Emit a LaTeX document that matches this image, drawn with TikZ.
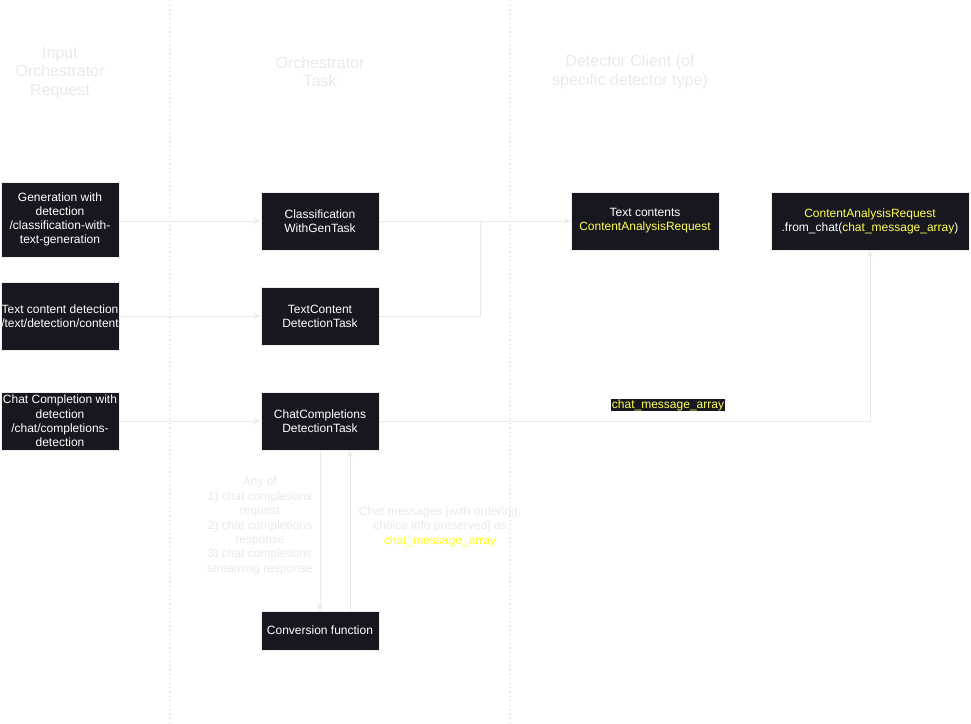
\documentclass[tikz,border=0pt]{standalone}
\usepackage{fontspec}
\setmainfont{Liberation Sans}
\usetikzlibrary{arrows.meta}
\definecolor{boxfill}{HTML}{18171F}
\definecolor{edgec}{HTML}{EBEBEB}
\definecolor{hdrc}{HTML}{EAEAEA}
\definecolor{ylw}{HTML}{FFFF55}
\definecolor{ylwb}{HTML}{FFFF22}
\definecolor{dotc}{HTML}{E6E6E6}
\begin{document}
\begin{tikzpicture}[x=1pt,y=-1pt,
  darkbox/.style={draw=white!93!black, line width=0.6pt, fill=boxfill, text=white,
    font=\fontsize{12}{14.2}\selectfont, align=center, inner sep=0pt},
  conn/.style={draw=edgec, line width=0.9pt},
  arr/.style={conn, -{Stealth[length=7pt,width=6pt]}},
  hdr/.style={text=hdrc, font=\fontsize{16}{18.5}\selectfont, align=center},
  note/.style={text=hdrc, font=\fontsize{12}{14.4}\selectfont, align=center},
  sep/.style={draw=dotc, line width=1.2pt, dash pattern=on 1.2pt off 3.2pt}
]
\useasboundingbox[fill=white] (0,0) rectangle (971,723);

% separators
\coordinate (s1t) at (170,5);
\coordinate (s1b) at (170,723);
\coordinate (s2t) at (510,5);
\coordinate (s2b) at (510,723);
\draw[sep] (s1t) -- (s1b);
\draw[sep] (s2t) -- (s2b);

% headers
\node[hdr] (h1) at (60,73) {Input\\Orchestrator\\Request};
\node[hdr] (h2) at (320,72) {Orchestrator\\Task};
\node[hdr] (h3) at (630,72) {Detector Client (of\\specific detector type)};

% input boxes
\node[darkbox, minimum width=118pt, minimum height=75pt] (in1) at (60,219.5)
  {Generation with\\detection\\/classification-with-\\text-generation};
\node[darkbox, minimum width=118pt, minimum height=68pt] (in2) at (60,316)
  {Text content detection\\/text/detection/content};
\node[darkbox, minimum width=118pt, minimum height=58pt] (in3) at (60,421)
  {Chat Completion with\\detection\\/chat/completions-\\detection};

% task boxes
\node[darkbox, minimum width=118pt, minimum height=58pt] (cwg) at (320,221)
  {Classification\\WithGenTask};
\node[darkbox, minimum width=118pt, minimum height=58pt] (tcd) at (320,316)
  {TextContent\\DetectionTask};
\node[darkbox, minimum width=118pt, minimum height=58pt] (ccd) at (320,421)
  {ChatCompletions\\DetectionTask};
\node[darkbox, minimum width=118pt, minimum height=39pt] (conv) at (320,630.5)
  {Conversion function};

% detector boxes
\node[darkbox, minimum width=148pt, minimum height=58pt] (tc) at (645,221)
  {Text contents\\\textcolor{ylw}{ContentAnalysisRequest}};
\node[darkbox, minimum width=198pt, minimum height=58pt] (car) at (870,221)
  {\textcolor{ylw}{ContentAnalysisRequest}\\.from\_chat(\textcolor{ylw}{chat\_message\_array})};

% connectors
\draw[arr] (in1.east |- cwg.west) -- (cwg.west);
\draw[arr] (in2.east) -- (tcd.west);
\draw[arr] (in3.east) -- (ccd.west);
\draw[arr] (cwg.east) -- (tc.west);
\coordinate (j1) at (480,221);
\draw[conn] (tcd.east) -| (j1);
\draw[arr] (ccd.east) -| (car.south);
\node[fill=boxfill, text=ylw, font=\fontsize{12}{14}\selectfont, inner sep=0.8pt] (lab1) at (668,405) {chat\_message\_array};

\draw[arr] (ccd.south) -- (conv.north);
\draw[arr] ([xshift=30pt]conv.north) -- ([xshift=30pt]ccd.south);

\node[note] (n1) at (260,526) {Any of\\1) chat completions\\request\\2) chat completions\\response\\3) chat completions\\streaming response};
\node[note] (n2) at (440,526.5) {Chat messages [with ordering,\\choice info preserved] as\\\textcolor{ylwb}{chat\_message\_array}};
\end{tikzpicture}
\end{document}
